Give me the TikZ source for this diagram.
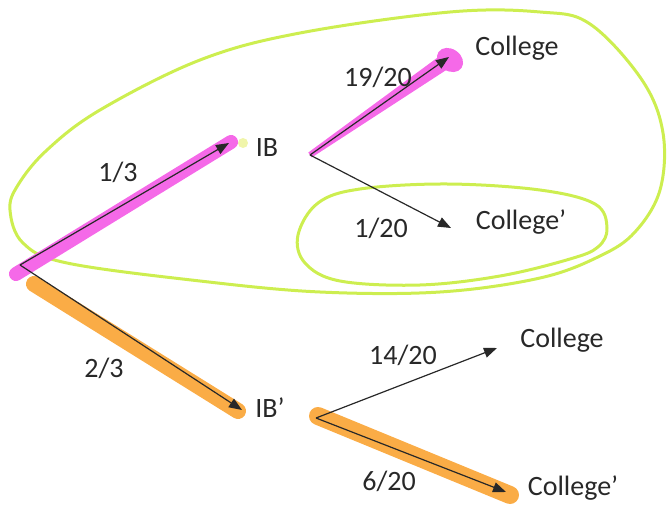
\documentclass[tikz,border=0pt]{standalone}
\usepackage{fontspec}
\setmainfont{Carlito}
\usetikzlibrary{arrows.meta}
\definecolor{hlpink}{RGB}{245,105,232}
\definecolor{hlorange}{RGB}{250,172,70}
\definecolor{loopgreen}{RGB}{205,238,80}
\definecolor{ink}{RGB}{40,40,40}
\definecolor{dotyellow}{RGB}{240,245,170}
\tikzset{
  lbl/.style={font=\fontsize{28}{32}\selectfont, text=ink, inner sep=0pt},
  branch/.style={draw=ink, line width=1.2pt, -{Triangle[length=13pt,width=10pt]}},
  pinkhl/.style={draw=hlpink, line width=14pt, line cap=round},
  orangehl/.style={draw=hlorange, line width=16pt, line cap=round},
  greenloop/.style={draw=loopgreen, line width=3pt}
}
\begin{document}
\begin{tikzpicture}[x=1pt,y=-1pt]
\useasboundingbox (0,0) rectangle (668,510);
% loops
\draw[greenloop] plot[smooth cycle, tension=0.6] coordinates {
  (23,243) (67,263) (200,281) (320,292) (440,292) (540,278) (600,256)
  (635,232) (660,190) (663,133) (642,80) (590,24) (540,12) (450,12)
  (300,33) (200,60) (100,110) (47,150) (18,185) (10,210)};
\draw[greenloop] plot[smooth cycle, tension=0.6] coordinates {
  (298,235) (318,203) (360,189) (447,184) (540,190) (595,204) (607,228)
  (598,247) (570,259) (500,276) (420,285) (340,281) (305,263)};
% coordinates
\coordinate (root) at (20,265);
\coordinate (ibtip) at (229,143);
\coordinate (ibptip) at (242,410);
\coordinate (ibstart) at (310,155);
\coordinate (c1tip) at (449,57);
\coordinate (c2tip) at (451,228);
\coordinate (ibpstart) at (316,418);
\coordinate (c3tip) at (497,348);
\coordinate (c4tip) at (506,492);
% highlights
\draw[pinkhl] (16,274) -- (231,142);
\fill[hlpink] (308.3,152.5) -- (311.7,157.5) -- (455.5,64) -- (446.5,51) -- cycle;
\fill[hlpink, rotate around={-35:(450,60)}] (450,60) ellipse (14pt and 11pt);
\draw[orangehl] (34,284) -- (238,411);
\draw[orangehl, line width=18pt] (318,416) -- (510,495);
\fill[dotyellow] (243,143) circle (5pt);
% labels
\node[lbl] (ib) at (267,148) {IB};
\node[lbl] (ibp) at (270,408) {IB’};
\node[lbl] (col1) at (517,48) {College};
\node[lbl] (col2) at (521,222) {College’};
\node[lbl] (col3) at (562,340) {College};
\node[lbl] (col4) at (573,488) {College’};
\node[lbl] (p13) at (118,172) {1/3};
\node[lbl] (p23) at (104,368) {2/3};
\node[lbl] (p1920) at (378,77) {19/20};
\node[lbl] (p120) at (381,228) {1/20};
\node[lbl] (p1420) at (403,355) {14/20};
\node[lbl] (p620) at (389,481) {6/20};
% arrows
\draw[branch] (root) -- (ibtip);
\draw[branch] (root) -- (ibptip);
\draw[branch] (ibstart) -- (c1tip);
\draw[branch] (ibstart) -- (c2tip);
\draw[branch] (ibpstart) -- (c3tip);
\draw[branch] (ibpstart) -- (c4tip);
\end{tikzpicture}
\end{document}
